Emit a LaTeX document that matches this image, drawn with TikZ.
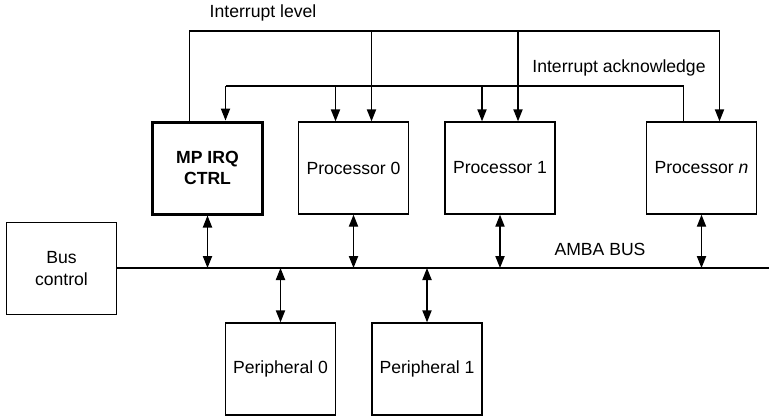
\documentclass[tikz,border=0pt]{standalone}
\usepackage{fontspec}
\setmainfont{Liberation Sans}
\usetikzlibrary{arrows.meta,positioning}

\tikzset{
  blk/.style={draw, line width=0.7pt, minimum width=55pt, minimum height=46pt,
    align=center, inner sep=0pt, font=\fontsize{8.8}{10.6}\selectfont},
  ctrlblk/.style={blk, line width=1.5pt, font=\fontsize{8.8}{10.6}\selectfont\bfseries},
  wire/.style={line width=0.7pt},
  sig/.style={wire, -{Triangle[length=6pt,width=4.6pt]}},
  bidir/.style={wire, {Triangle[length=6pt,width=4.6pt]}-{Triangle[length=6pt,width=4.6pt]}},
  lbl/.style={font=\fontsize{8.8}{10.6}\selectfont, inner sep=0pt}
}

\begin{document}
\begin{tikzpicture}[x=0.5pt, y=-0.5pt]
  \useasboundingbox (0,0) rectangle (769,417);

  % Blocks
  \node[ctrlblk] (irq) at (207.5,168) {MP IRQ\\CTRL};
  \node[blk] (p0) at (353.5,168) {Processor 0};
  \node[blk] (p1) at (500,168) {Processor 1};
  \node[blk] (pn) at (701.5,168) {Processor \textit{n}};
  \node[blk] (busctl) at (61.5,268.5) {Bus\\control};
  \node[blk] (per0) at (280.5,369) {Peripheral 0};
  \node[blk] (per1) at (427,369) {Peripheral 1};

  % AMBA bus
  \coordinate (busend) at (769,268);
  \draw[wire] (busctl.east |- busend) -- (busend);
  \node[lbl] (amba) at (600,249) {AMBA BUS};

  % Bus connections
  \draw[bidir] (irq.south) -- (irq.south |- busend);
  \draw[bidir] (p0.south) -- (p0.south |- busend);
  \draw[bidir] (p1.south) -- (p1.south |- busend);
  \draw[bidir] (pn.south) -- (pn.south |- busend);
  \draw[bidir] (per0.north |- busend) -- (per0.north);
  \draw[bidir] (per1.north |- busend) -- (per1.north);

  % Interrupt level
  \coordinate (lvl) at (0,31);
  \draw[wire] ([xshift=-9pt]irq.north) -- ([xshift=-9pt]irq.north |- lvl)
    -- ([xshift=9pt]pn.north |- lvl);
  \draw[sig] ([xshift=9pt]p0.north |- lvl) -- ([xshift=9pt]p0.north);
  \draw[sig] ([xshift=9pt]p1.north |- lvl) -- ([xshift=9pt]p1.north);
  \draw[sig] ([xshift=9pt]pn.north |- lvl) -- ([xshift=9pt]pn.north);
  \node[lbl] (lvltxt) at (263,13) {Interrupt level};

  % Interrupt acknowledge
  \coordinate (ack) at (0,86);
  \draw[wire] ([xshift=-9pt]pn.north) -- ([xshift=-9pt]pn.north |- ack)
    -- ([xshift=9pt]irq.north |- ack);
  \draw[sig] ([xshift=9pt]irq.north |- ack) -- ([xshift=9pt]irq.north);
  \draw[sig] ([xshift=-9pt]p0.north |- ack) -- ([xshift=-9pt]p0.north);
  \draw[sig] ([xshift=-9pt]p1.north |- ack) -- ([xshift=-9pt]p1.north);
  \node[lbl] (acktxt) at (619,68) {Interrupt acknowledge};
\end{tikzpicture}
\end{document}
